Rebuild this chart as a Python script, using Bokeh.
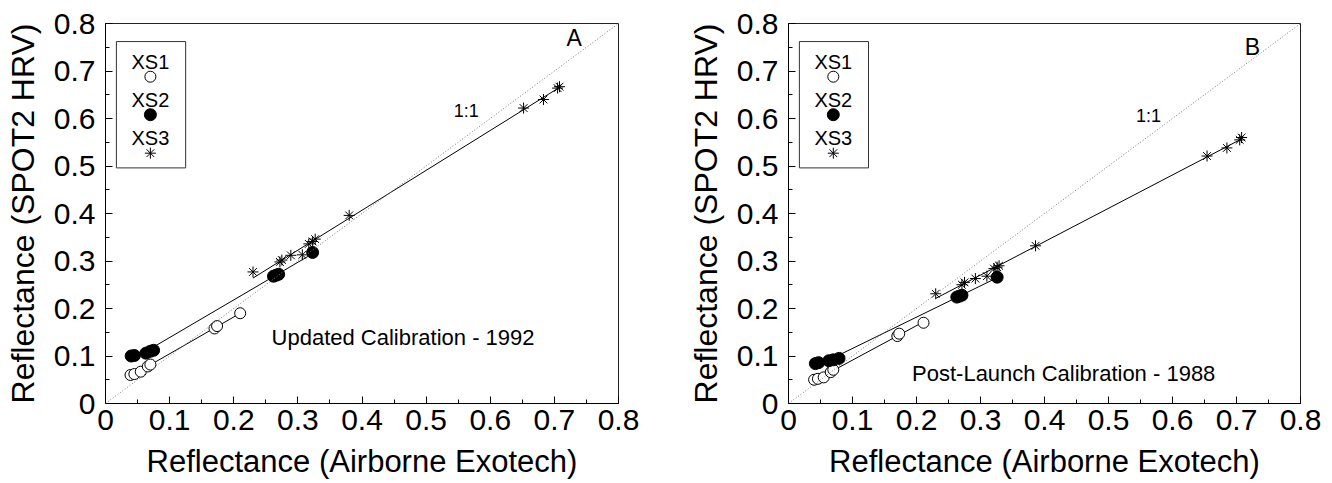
import numpy as np
from bokeh.plotting import figure
from bokeh.layouts import row
from bokeh.models import Range1d, FixedTicker, PrintfTickFormatter, Slope, Label
from bokeh.embed import file_html
from bokeh.resources import INLINE

FONT = "Liberation Sans"

# ---------------- data ----------------
ticks = [0, 0.1, 0.2, 0.3, 0.4, 0.5, 0.6, 0.7, 0.8]
minor_ticks = [0.05, 0.15, 0.25, 0.35, 0.45, 0.55, 0.65, 0.75]

# Panel A: Updated Calibration - 1992
a_xs1_x = [0.039, 0.045, 0.055, 0.066, 0.070, 0.170, 0.174, 0.210]
a_xs1_y = [0.060, 0.062, 0.067, 0.078, 0.082, 0.158, 0.163, 0.190]
a_xs2_x = [0.040, 0.045, 0.063, 0.070, 0.075, 0.262, 0.266, 0.270, 0.323]
a_xs2_y = [0.100, 0.101, 0.106, 0.110, 0.112, 0.268, 0.270, 0.272, 0.318]
a_xs3_x = [0.230, 0.272, 0.275, 0.289, 0.307, 0.317, 0.323, 0.327, 0.380, 0.652, 0.683, 0.705, 0.708]
a_xs3_y = [0.277, 0.298, 0.302, 0.312, 0.313, 0.336, 0.341, 0.346, 0.396, 0.622, 0.640, 0.664, 0.667]

# Panel B: Post-Launch Calibration - 1988
b_xs1_x = [0.040, 0.046, 0.055, 0.066, 0.070, 0.170, 0.173, 0.211]
b_xs1_y = [0.050, 0.052, 0.055, 0.066, 0.071, 0.142, 0.147, 0.170]
b_xs2_x = [0.042, 0.047, 0.063, 0.070, 0.079, 0.263, 0.267, 0.271, 0.326]
b_xs2_y = [0.084, 0.086, 0.090, 0.092, 0.095, 0.224, 0.226, 0.228, 0.266]
b_xs3_x = [0.230, 0.271, 0.275, 0.292, 0.310, 0.321, 0.326, 0.329, 0.386, 0.654, 0.685, 0.705, 0.708]
b_xs3_y = [0.231, 0.250, 0.255, 0.263, 0.268, 0.284, 0.287, 0.290, 0.332, 0.521, 0.538, 0.555, 0.560]

series_names = ["XS1", "XS2", "XS3"]
x_title = "Reflectance (Airborne Exotech)"
y_title = "Reflectance (SPOT2 HRV)"


def style(p):
    p.x_range = Range1d(0, 0.8)
    p.y_range = Range1d(0, 0.8)
    p.xgrid.visible = False
    p.ygrid.visible = False
    p.outline_line_color = "#222222"
    p.outline_line_width = 1
    p.background_fill_color = "white"
    p.border_fill_color = "white"
    for ax in (p.xaxis[0], p.yaxis[0]):
        ax.ticker = FixedTicker(ticks=ticks, minor_ticks=minor_ticks)
        ax.formatter = PrintfTickFormatter(format="%.1f")
        ax.major_label_overrides = {0: "0"}
        ax.major_tick_in = 7
        ax.major_tick_out = 0
        ax.minor_tick_in = 4
        ax.minor_tick_out = 0
        ax.major_tick_line_color = "black"
        ax.minor_tick_line_color = "black"
        ax.axis_line_color = "black"
        ax.major_label_text_font = FONT
        ax.major_label_text_font_size = "30px"
        ax.major_label_text_color = "black"
        ax.axis_label_text_font = FONT
        ax.axis_label_text_font_style = "normal"
        ax.axis_label_text_color = "black"
    p.xaxis[0].axis_label = x_title
    p.yaxis[0].axis_label = y_title
    p.xaxis[0].axis_label_text_font_size = "31px"
    p.yaxis[0].axis_label_text_font_size = "32px"
    p.xaxis[0].major_label_standoff = 6
    p.xaxis[0].axis_label_standoff = 11
    p.yaxis[0].major_label_standoff = 10
    p.yaxis[0].axis_label_standoff = 10


def add_series(p, x1, y1, x2, y2, x3, y3):
    # 1:1 line
    p.add_layout(Slope(gradient=1, y_intercept=0, line_color="#777777",
                       line_dash="1 2", line_width=1))
    # regression lines fitted to each band
    for xs, ys in ((x1, y1), (x2, y2), (x3, y3)):
        k, b = np.polyfit(xs, ys, 1)
        xa = np.array([min(xs), max(xs)])
        p.line(xa, k * xa + b, line_color="black", line_width=1)
    p.scatter(x1, y1, marker="circle", size=11, fill_color="white",
              line_color="black", line_width=1)
    p.scatter(x2, y2, marker="circle", size=12, fill_color="black",
              line_color="black")
    p.scatter(x3, y3, marker="asterisk", size=11, line_color="black",
              line_width=1)


def add_legend(p):
    # legend frame (data coordinates of the inset box)
    p.quad(left=[0.017], right=[0.125], bottom=[0.496], top=[0.762],
           fill_color="white", line_color="#333333", line_width=1)
    txt_y = [0.719, 0.640, 0.560]
    mk_y = [0.688, 0.608, 0.527]
    for name, ty in zip(series_names, txt_y):
        p.add_layout(Label(x=0.070, y=ty, text=name, text_font=FONT,
                           text_font_size="20px", text_align="center",
                           text_baseline="middle", text_color="black"))
    p.scatter([0.070], [mk_y[0]], marker="circle", size=11,
              fill_color="white", line_color="black")
    p.scatter([0.070], [mk_y[1]], marker="circle", size=12,
              fill_color="black", line_color="black")
    p.scatter([0.070], [mk_y[2]], marker="asterisk", size=11,
              line_color="black")


def label(p, x, y, text, size, align="center"):
    p.add_layout(Label(x=x, y=y, text=text, text_font=FONT,
                       text_font_size=size, text_align=align,
                       text_baseline="middle", text_color="black"))


pA = figure(width=660, height=483, output_backend="svg", toolbar_location=None,
            min_border_left=105, min_border_right=42, min_border_top=23,
            min_border_bottom=76)
style(pA)
add_series(pA, a_xs1_x, a_xs1_y, a_xs2_x, a_xs2_y, a_xs3_x, a_xs3_y)
add_legend(pA)
label(pA, 0.731, 0.769, "A", "23px")
label(pA, 0.5625, 0.615, "1:1", "18px")
label(pA, 0.464, 0.140, "Updated Calibration - 1992", "22px")

pB = figure(width=672, height=483, output_backend="svg", toolbar_location=None,
            min_border_left=128, min_border_right=32, min_border_top=19,
            min_border_bottom=80)
style(pB)
add_series(pB, b_xs1_x, b_xs1_y, b_xs2_x, b_xs2_y, b_xs3_x, b_xs3_y)
add_legend(pB)
label(pB, 0.725, 0.750, "B", "23px")
label(pB, 0.5625, 0.606, "1:1", "18px")
label(pB, 0.430, 0.0625, "Post-Launch Calibration - 1988", "22px")

layout = row(pA, pB)
open("out.html", "w").write(file_html(layout, INLINE))
